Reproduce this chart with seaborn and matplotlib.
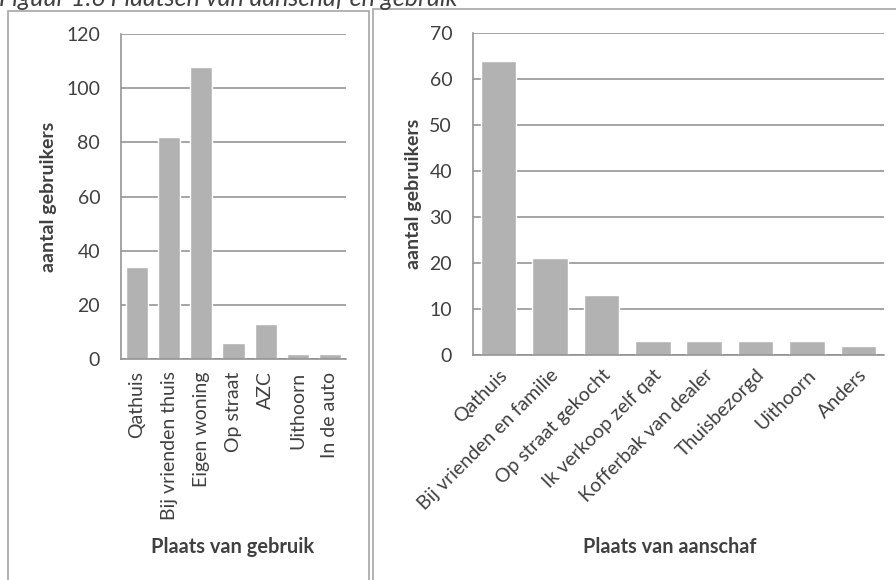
import matplotlib
matplotlib.use("Agg")
import matplotlib.pyplot as plt
import seaborn as sns
from matplotlib.patches import Rectangle

# data
gebruik_cats = ["Qathuis", "Bij vrienden thuis", "Eigen woning", "Op straat",
                "AZC", "Uithoorn", "In de auto"]
gebruik_vals = [34, 82, 108, 6, 13, 2, 2]

aanschaf_cats = ["Qathuis", "Bij vrienden en familie", "Op straat gekocht",
                 "Ik verkoop zelf qat", "Kofferbak van dealer", "Thuisbezorgd",
                 "Uithoorn", "Anders"]
aanschaf_vals = [64, 21, 13, 3, 3, 3, 3, 2]

gebruik_ticks = [0, 20, 40, 60, 80, 100, 120]
aanschaf_ticks = [0, 10, 20, 30, 40, 50, 60, 70]

BAR = "#b2b2b2"
GRID = "#8c8c8c"
TEXT = "#404040"
FRAME = "#a6a6a6"

sns.set_theme(style="white")
plt.rcParams["font.family"] = ["Lato", "DejaVu Sans"]

W, H = 896, 580
fig = plt.figure(figsize=(W / 100, H / 100), dpi=100)


def px_axes(x0, y_top, x1, y_bot):
    return fig.add_axes([x0 / W, 1 - y_bot / H, (x1 - x0) / W, (y_bot - y_top) / H])


def style_axis(ax, ticks, ylabel_x, xlabel_y, xlabel_x):
    ax.set_ylim(ticks[0], ticks[-1])
    ax.set_yticks(ticks)
    ax.yaxis.grid(True, color=GRID, linewidth=1.1)
    ax.set_axisbelow(True)
    for s in ["top", "right"]:
        ax.spines[s].set_visible(False)
    for s in ["left", "bottom"]:
        ax.spines[s].set_color(GRID)
        ax.spines[s].set_linewidth(1.1)
    ax.tick_params(axis="y", length=0, pad=15, labelsize=14, labelcolor=TEXT)
    ax.tick_params(axis="x", length=0, labelsize=14, labelcolor=TEXT)
    ax.set_ylabel("aantal gebruikers", fontsize=14, fontweight="bold", color=TEXT)
    ax.yaxis.set_label_coords(ylabel_x, 0.5)
    ax.xaxis.label.set_va("center")
    ax.xaxis.set_label_coords(xlabel_x, xlabel_y)


# left panel: plaats van gebruik
ax1 = px_axes(121, 34, 346, 359)
sns.barplot(x=gebruik_cats, y=gebruik_vals, color=BAR, width=0.69,
            saturation=1, ax=ax1)
ax1.set_xlabel("Plaats van gebruik", fontsize=14.4, fontweight="bold", color=TEXT)
style_axis(ax1, gebruik_ticks, -0.284, -0.578, 0.498)
ax1.tick_params(axis="x", pad=9)
for lab in ax1.get_xticklabels():
    lab.set_rotation(90)
    lab.set_va("top")
    lab.set_ha("center")

# right panel: plaats van aanschaf
ax2 = px_axes(473, 33, 884, 355)
sns.barplot(x=aanschaf_cats, y=aanschaf_vals, color=BAR, width=0.69,
            saturation=1, ax=ax2)
ax2.set_xlabel("Plaats van aanschaf", fontsize=14.3, fontweight="bold", color=TEXT)
style_axis(ax2, aanschaf_ticks, -0.124, -0.596, 0.479)
ax2.tick_params(axis="x", pad=8)
for lab in ax2.get_xticklabels():
    lab.set_rotation(45)
    lab.set_ha("right")
    lab.set_va("top")
    lab.set_rotation_mode("anchor")

# panel frames like the Word layout
fig.patches.append(Rectangle((8 / W, -0.05), (369 - 8) / W, 1.05 - 11 / H,
                             transform=fig.transFigure, fill=False,
                             edgecolor=FRAME, linewidth=1.2))
fig.patches.append(Rectangle((373 / W, -0.05), 1.0, 1.05 - 9 / H,
                             transform=fig.transFigure, fill=False,
                             edgecolor=FRAME, linewidth=1.2))

# caption, mostly cut off at the top edge as in the reference
fig.text(-1 / W, 1 - 6 / H, "Figuur 1.6 Plaatsen van aanschaf en gebruik",
         fontsize=18, style="italic", color=TEXT, va="baseline", ha="left")

fig.savefig("out.png", dpi=100)
